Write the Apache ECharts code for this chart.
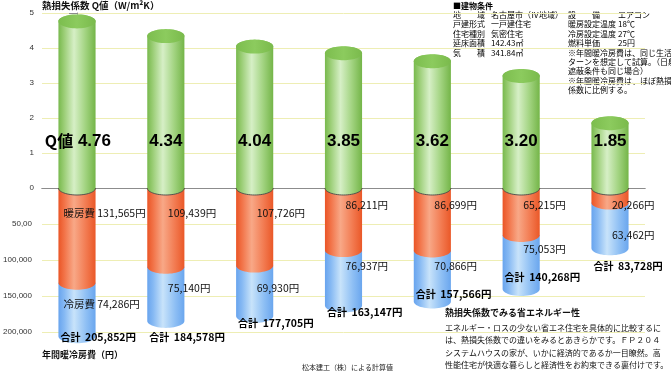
<!DOCTYPE html>
<html>
<head>
<meta charset="utf-8">
<script src="https://cdn.jsdelivr.net/npm/echarts@6/dist/echarts.min.js"></script>
<style>
html,body{margin:0;padding:0;background:#fff;}
#chart{width:671px;height:371px;}
</style>
</head>
<body>
<div id="chart"></div>
<script>
// ---------- data ----------
const categories = ['住宅1', '住宅2', '住宅3', '住宅4', '住宅5', '住宅6', '住宅7'];
const qValues = [4.76, 4.34, 4.04, 3.85, 3.62, 3.20, 1.85];
const heatingCost = [131565, 109439, 107726, 86211, 86699, 65215, 20266];
const coolingCost = [74286, 75140, 69930, 76937, 70866, 75053, 63462];
const totalCost = [205852, 184578, 177705, 163147, 157566, 140268, 83728];
const qTickLabels = ['0', '1', '2', '3', '4', '5'];
const costTickLabels = ['0', '50,00', '100,000', '150,000', '200,000'];

// ---------- label layout nudges (pixels) ----------
const heatLabelDy = [25, 25, 25, 17, 17, 17, 17];
const coolLabelDy = [21, 21, 22, 16, 16, 14, 32];
const totalLabelDy = [1, 16, 7, 7, -7, -12, 18];

const JP = '"Noto Sans CJK JP", "Noto Sans", sans-serif';
const X_PAD = 0.394;
const BAR_RATIO = 0.418;
const RY = 7;

function fmt(v) { return v.toLocaleString('en-US') + '円'; }

function lowerArc(cx, cy, rx, ry, n) {
  n = n || 28; const p = [];
  for (let k = 0; k <= n; k++) { const t = Math.PI * (1 - k / n); p.push([cx + rx * Math.cos(t), cy + ry * Math.sin(t)]); }
  return p;
}
function upperArc(cx, cy, rx, ry, n) {
  n = n || 28; const p = [];
  for (let k = 0; k <= n; k++) { const t = Math.PI * (k / n); p.push([cx + rx * Math.cos(t), cy - ry * Math.sin(t)]); }
  return p;
}
function grad(stops) {
  return new echarts.graphic.LinearGradient(0, 0, 1, 0, stops.map(s => ({ offset: s[0], color: s[1] })));
}
function txt(x, y, text, font, fill, align, valign, rich) {
  const st = {
    text: text, font: font, textFont: font, fill: fill, textFill: fill,
    align: align || 'left', textAlign: align || 'left',
    verticalAlign: valign || 'middle', textVerticalAlign: valign || 'middle'
  };
  if (rich) st.rich = rich;
  return { type: 'text', x: x, y: y, style: st };
}

const greenBody = [[0, '#78b94d'], [0.14, '#98cc72'], [0.42, '#d6efc6'], [0.72, '#a3d482'], [1, '#74b548']];
const greenCap = [[0, '#7cbd4e'], [0.5, '#8ccb5e'], [1, '#7aba4c']];
const orangeBody = [[0, '#ea5526'], [0.16, '#f27348'], [0.42, '#f8a887'], [0.75, '#f27a50'], [1, '#ea5828']];
const blueBody = [[0, '#68a4ee'], [0.16, '#86b9f3'], [0.42, '#c8e3fa'], [0.75, '#8ebff4'], [1, '#6aa6ee']];

function renderQ(params, api) {
  const i = api.value(0), q = api.value(1);
  const p0 = api.coord([i, 0]), pq = api.coord([i, q]);
  const w = api.size([1, 0])[0] * BAR_RATIO, rx = w / 2, cx = p0[0];
  const body = lowerArc(cx, p0[1], rx, RY).concat(upperArc(cx, pq[1], rx, RY));
  const cap = lowerArc(cx, pq[1], rx, RY).concat(upperArc(cx, pq[1], rx, RY));
  const children = [
    { type: 'polygon', shape: { points: body }, style: { fill: grad(greenBody) } },
    { type: 'polygon', shape: { points: cap }, style: { fill: grad(greenCap) } },
    { type: 'polyline', shape: { points: lowerArc(cx, p0[1], rx, RY) }, style: { stroke: '#4a4a4a', lineWidth: 0.9, fill: null } }
  ];
  const ly = p0[1] - 47;
  if (params.dataIndex === 0) {
    children.push(txt(cx + 34, ly, '{q|Q値} {v|' + q.toFixed(2) + '}', 'bold 17px "Liberation Sans", Arial', '#000', 'right', 'middle', {
      q: { font: 'bold 16px ' + JP, fill: '#000', textFill: '#000' },
      v: { font: 'bold 17px "Liberation Sans", Arial', fill: '#000', textFill: '#000' }
    }));
  } else {
    children.push(txt(cx, ly, q.toFixed(2), 'bold 17px "Liberation Sans", Arial', '#000', 'center', 'middle'));
  }
  return { type: 'group', children: children };
}

function renderCost(params, api) {
  const i = api.value(0), h = api.value(1), c = api.value(2);
  const idx = params.dataIndex;
  const p0 = api.coord([i, 0]), pH = api.coord([i, h]), pT = api.coord([i, h + c]);
  const w = api.size([1, 0])[0] * BAR_RATIO, rx = w / 2, cx = p0[0], L = cx - rx;
  const blue = lowerArc(cx, pT[1], rx, RY).concat([[cx + rx, pH[1]], [L, pH[1]]]);
  const orange = lowerArc(cx, pH[1], rx, RY).concat([[cx + rx, p0[1]], [L, p0[1]]]);
  const numFont = '10.5px ' + JP;
  const children = [
    { type: 'polygon', shape: { points: blue }, style: { fill: grad(blueBody) } },
    { type: 'polygon', shape: { points: orange }, style: { fill: grad(orangeBody) } }
  ];
  const hy = p0[1] + heatLabelDy[idx];
  const cy = pH[1] + coolLabelDy[idx];
  if (idx === 0) {
    children.push(txt(L + 5, hy, '暖房費 ' + fmt(h), numFont, '#111', 'left'));
    children.push(txt(L + 5, cy, '冷房費 ' + fmt(c), numFont, '#111', 'left'));
  } else {
    children.push(txt(cx + 2, hy, fmt(h), numFont, '#111', 'left'));
    children.push(txt(cx + 2, cy, fmt(c), numFont, '#111', 'left'));
  }
  const ty = pT[1] + totalLabelDy[idx];
  children.push(txt(L + 2, ty, '{a|合計}  {b|' + fmt(totalCost[idx]) + '}', 'bold 10px ' + JP, '#000', 'left', 'middle', {
    a: { font: 'bold 10px ' + JP, fill: '#000', textFill: '#000' },
    b: { font: 'bold 10.5px ' + JP, fill: '#000', textFill: '#000' }
  }));
  return { type: 'group', children: children };
}

// ---------- static texts ----------
const infoLeft = [['地　　域', '名古屋市（Ⅳ地域）'], ['戸建形式', '一戸建住宅'], ['住宅種別', '気密住宅'], ['延床面積', '142.43㎡'], ['気　　積', '341.84㎥']];
const infoRight = [['設　　備', 'エアコン'], ['暖房設定温度', '18℃'], ['冷房設定温度', '27℃'], ['燃料単価', '25円']];
const infoNotes = ['※年間暖冷房費は、同じ生活パ', 'ターンを想定して試算。（日射', '遮蔽条件も同じ場合）', '※年間暖冷房費は、ほぼ熱損失', '係数に比例する。'];
const paraLines = ['エネルギー・ロスの少ない省エネ住宅を具体的に比較するに', 'は、熱損失係数での違いをみるとあきらかです。ＦＰ２０４', 'システムハウスの家が、いかに経済的であるか一目瞭然。高', '性能住宅が快適な暮らしと経済性をお約束できる裏付けです。'];

const gfx = [];
const smallFont = '8px ' + JP;
gfx.push(txt(42, 5.5, '熱損失係数 Q値（W/m²K）', 'bold 9.5px ' + JP, '#111'));
gfx.push(txt(42, 355, '年間暖冷房費（円）', 'bold 9px ' + JP, '#111'));
gfx.push(txt(302, 367, '松本建工（株）による計算値', '7px ' + JP, '#222'));
gfx.push(txt(453, 5.5, '■建物条件', 'bold 8px ' + JP, '#000'));
infoLeft.forEach((r, k) => {
  const y = 15 + k * 9.4;
  gfx.push(txt(453, y, r[0], smallFont, '#000'));
  gfx.push(txt(491, y, r[1], smallFont, '#000'));
});
infoRight.forEach((r, k) => {
  const y = 15 + k * 9.4;
  gfx.push(txt(568, y, r[0], smallFont, '#000'));
  gfx.push(txt(618, y, r[1], smallFont, '#000'));
});
infoNotes.forEach((t, k) => { gfx.push(txt(568, 52.6 + k * 9.4, t, smallFont, '#000')); });
gfx.push(txt(445, 313, '熱損失係数でみる省エネルギー性', 'bold 9px ' + JP, '#111'));
paraLines.forEach((t, k) => { gfx.push(txt(445, 328 + k * 12.4, t, '8px ' + JP, '#111')); });

const chart = echarts.init(document.getElementById('chart'), null, { renderer: 'canvas' });
const axisGray = '#8c8c8c';
const gridYellow = '#eeeeb4';
chart.setOption({
  animation: false,
  backgroundColor: '#ffffff',
  grid: [
    { left: 42, top: 13, width: 603, height: 175 },
    { left: 42, top: 188, width: 603, height: 144 }
  ],
  xAxis: [
    { type: 'value', gridIndex: 0, min: -X_PAD, max: categories.length - 1 + X_PAD,
      axisLine: { show: true, lineStyle: { color: axisGray, width: 1 } }, axisTick: { show: false }, axisLabel: { show: false }, splitLine: { show: false } },
    { type: 'value', gridIndex: 1, min: -X_PAD, max: categories.length - 1 + X_PAD, position: 'top',
      axisLine: { show: true, lineStyle: { color: axisGray, width: 1 } }, axisTick: { show: false }, axisLabel: { show: false }, splitLine: { show: false } }
  ],
  yAxis: [
    { type: 'value', gridIndex: 0, min: 0, max: 5, interval: 1,
      axisLine: { show: true, lineStyle: { color: axisGray } },
      axisTick: { show: true, length: 8, lineStyle: { color: axisGray } },
      axisLabel: { margin: 8, fontSize: 8, color: '#333', fontFamily: 'Liberation Sans', formatter: (v) => qTickLabels[Math.round(v)] },
      splitLine: { show: true, lineStyle: { color: gridYellow, width: 1 } } },
    { type: 'value', gridIndex: 1, min: 0, max: 200000, interval: 50000, inverse: true,
      axisLine: { show: true, lineStyle: { color: axisGray } },
      axisTick: { show: true, length: 9, lineStyle: { color: axisGray } },
      axisLabel: { margin: 10, fontSize: 8, color: '#333', fontFamily: 'Liberation Sans', showMinLabel: false,
        formatter: (v) => costTickLabels[Math.round(v / 50000)] },
      splitLine: { show: true, lineStyle: { color: gridYellow, width: 1 } } }
  ],
  series: [
    { type: 'custom', name: '暖冷房費', xAxisIndex: 1, yAxisIndex: 1, z: 2, clip: false,
      data: categories.map((c, i) => [i, heatingCost[i], coolingCost[i]]),
      renderItem: renderCost },
    { type: 'custom', name: 'Q値', xAxisIndex: 0, yAxisIndex: 0, z: 3, clip: false,
      data: categories.map((c, i) => [i, qValues[i]]),
      renderItem: renderQ }
  ],
  graphic: gfx
});
</script>
</body>
</html>
